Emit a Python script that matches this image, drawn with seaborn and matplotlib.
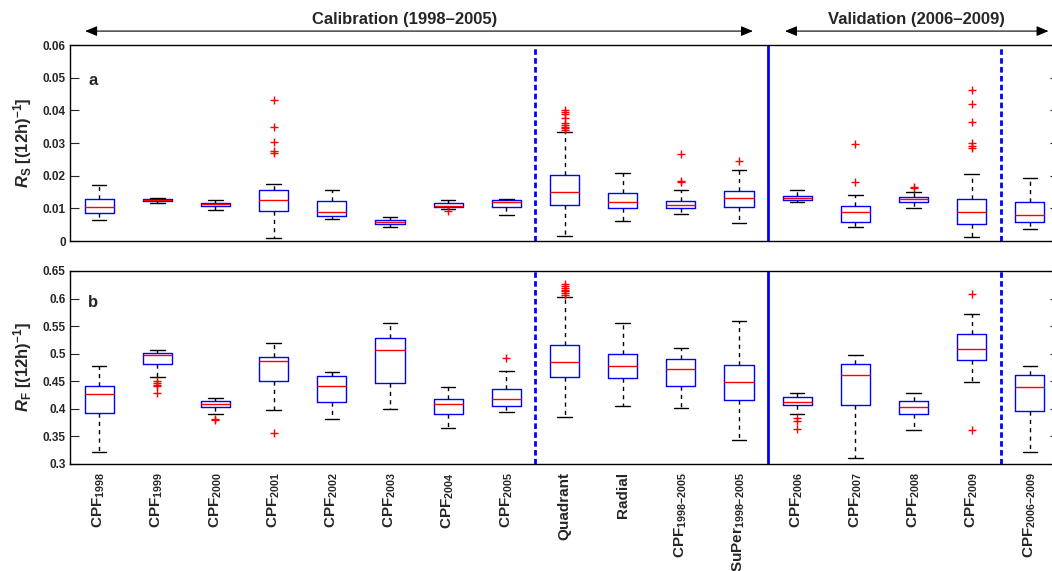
import numpy as np
import pandas as pd
import matplotlib
matplotlib.use("Agg")
import matplotlib.pyplot as plt
from matplotlib.ticker import FuncFormatter, MultipleLocator
import seaborn as sns

# ---- categories -------------------------------------------------------------
groups = ["CPF1998", "CPF1999", "CPF2000", "CPF2001", "CPF2002", "CPF2003",
          "CPF2004", "CPF2005", "Quadrant", "Radial", "CPF1998-2005",
          "SuPer1998-2005", "CPF2006", "CPF2007", "CPF2008", "CPF2009",
          "CPF2006-2009"]

tick_labels = [r"$\mathrm{CPF}_{\mathrm{1998}}$", r"$\mathrm{CPF}_{\mathrm{1999}}$",
               r"$\mathrm{CPF}_{\mathrm{2000}}$", r"$\mathrm{CPF}_{\mathrm{2001}}$",
               r"$\mathrm{CPF}_{\mathrm{2002}}$", r"$\mathrm{CPF}_{\mathrm{2003}}$",
               r"$\mathrm{CPF}_{\mathrm{2004}}$", r"$\mathrm{CPF}_{\mathrm{2005}}$",
               "Quadrant", "Radial",
               r"$\mathrm{CPF}_{\mathrm{1998{-}2005}}$",
               r"$\mathrm{SuPer}_{\mathrm{1998{-}2005}}$",
               r"$\mathrm{CPF}_{\mathrm{2006}}$", r"$\mathrm{CPF}_{\mathrm{2007}}$",
               r"$\mathrm{CPF}_{\mathrm{2008}}$", r"$\mathrm{CPF}_{\mathrm{2009}}$",
               r"$\mathrm{CPF}_{\mathrm{2006{-}2009}}$"]

# ---- panel a: R_S five-number summaries and outliers -------------------------
rs_low  = [0.0064, 0.0115, 0.0095, 0.0010, 0.0066, 0.0044, 0.0099, 0.0081, 0.0014,
           0.0062, 0.0084, 0.0055, 0.0118, 0.0044, 0.0101, 0.0011, 0.0037]
rs_q1   = [0.0085, 0.0122, 0.0107, 0.0092, 0.0077, 0.0053, 0.0105, 0.0104, 0.0111,
           0.0102, 0.0101, 0.0105, 0.0124, 0.0058, 0.0119, 0.0053, 0.0059]
rs_med  = [0.0105, 0.0125, 0.0112, 0.0125, 0.0090, 0.0058, 0.0108, 0.0119, 0.0149,
           0.0119, 0.0111, 0.0131, 0.0132, 0.0090, 0.0128, 0.0088, 0.0079]
rs_q3   = [0.0130, 0.0128, 0.0117, 0.0156, 0.0123, 0.0063, 0.0115, 0.0124, 0.0201,
           0.0147, 0.0123, 0.0154, 0.0139, 0.0106, 0.0134, 0.0128, 0.0119]
rs_high = [0.0171, 0.0133, 0.0124, 0.0174, 0.0156, 0.0075, 0.0125, 0.0128, 0.0335,
           0.0209, 0.0155, 0.0216, 0.0155, 0.0142, 0.0151, 0.0205, 0.0194]
rs_outliers = [[], [], [], [0.0432, 0.0348, 0.0303, 0.0277, 0.0268], [], [],
               [0.0093], [],
               [0.0401, 0.0396, 0.0389, 0.0376, 0.0362, 0.0356, 0.0350, 0.0346, 0.0341],
               [], [0.0266, 0.0184, 0.0181], [0.0244], [], [0.0297, 0.0182],
               [0.0166, 0.0163], [0.0462, 0.0418, 0.0363, 0.0301, 0.0292, 0.0286], []]

# ---- panel b: R_F five-number summaries and outliers -------------------------
rf_low  = [0.321, 0.457, 0.390, 0.398, 0.381, 0.400, 0.366, 0.394, 0.386,
           0.405, 0.401, 0.343, 0.391, 0.311, 0.361, 0.449, 0.321]
rf_q1   = [0.392, 0.482, 0.403, 0.451, 0.413, 0.446, 0.390, 0.405, 0.457,
           0.456, 0.441, 0.416, 0.407, 0.407, 0.391, 0.488, 0.396]
rf_med  = [0.427, 0.497, 0.409, 0.487, 0.441, 0.506, 0.408, 0.417, 0.485,
           0.478, 0.473, 0.448, 0.412, 0.461, 0.403, 0.509, 0.439]
rf_q3   = [0.441, 0.501, 0.414, 0.494, 0.460, 0.529, 0.418, 0.436, 0.515,
           0.499, 0.490, 0.479, 0.421, 0.482, 0.415, 0.535, 0.461]
rf_high = [0.478, 0.507, 0.419, 0.520, 0.467, 0.556, 0.439, 0.468, 0.603,
           0.556, 0.511, 0.559, 0.428, 0.498, 0.428, 0.572, 0.478]
rf_outliers = [[], [0.450, 0.447, 0.443, 0.441, 0.428], [0.382, 0.380], [0.357],
               [], [], [], [0.493],
               [0.626, 0.623, 0.619, 0.616, 0.613, 0.610, 0.607],
               [], [], [], [0.384, 0.378, 0.363], [], [], [0.609, 0.361], []]

# ---- style ------------------------------------------------------------------
sns.set_theme(style="ticks")
plt.rcParams["font.family"] = ["Liberation Sans", "DejaVu Sans"]
plt.rcParams["font.weight"] = "bold"
plt.rcParams["axes.labelweight"] = "bold"
plt.rcParams["mathtext.fontset"] = "custom"
plt.rcParams["mathtext.rm"] = "Liberation Sans:bold"
plt.rcParams["mathtext.bf"] = "Liberation Sans:bold"
plt.rcParams["mathtext.it"] = "Liberation Sans:italic:bold"
plt.rcParams["axes.edgecolor"] = "black"
plt.rcParams["axes.linewidth"] = 1.0

fig = plt.figure(figsize=(10.52, 5.71), dpi=100)
W, H = 1052.0, 571.0
ax_a = fig.add_axes([70 / W, 1 - 241 / H, 989 / W, 196 / H])
ax_b = fig.add_axes([70 / W, 1 - 464 / H, 989 / W, 193 / H])


def draw_panel(ax, low, q1, med, q3, high, outliers):
    # each group is described by its whisker ends, quartiles and median
    summary = np.column_stack([low, q1, med, q3, high]).ravel()
    df = pd.DataFrame({"group": np.repeat(groups, 5), "value": summary})
    sns.boxplot(data=df, x="group", y="value", order=groups, ax=ax,
                whis=(0, 100), width=0.5, fill=False, color="blue",
                linewidth=1.0, showfliers=False,
                whiskerprops=dict(color="black", linestyle=(0, (3, 3))),
                capprops=dict(color="black"),
                medianprops=dict(color="red"))
    out = pd.DataFrame([(g, v) for g, vals in zip(groups, outliers) for v in vals],
                       columns=["group", "value"])
    sns.stripplot(data=out, x="group", y="value", order=groups, ax=ax,
                  jitter=False, marker="+", color="red", size=6, linewidth=1.0)
    ax.axvline(7.5, color="blue", lw=2, linestyle=(0, (2, 1.2)))
    ax.axvline(11.5, color="blue", lw=2)
    ax.axvline(15.5, color="blue", lw=2, linestyle=(0, (2, 1.2)))
    ax.set_xlim(-0.5, len(groups) - 0.5)
    ax.set_xlabel("")
    ax.tick_params(axis="y", direction="in", length=6.5, width=0.8,
                   left=True, right=True, labelsize=8.5, pad=3)
    ax.tick_params(axis="x", length=0)
    ax.yaxis.set_major_formatter(FuncFormatter(lambda v, p: f"{v:g}"))
    for s in ax.spines.values():
        s.set_visible(True)
        s.set_color("black")


draw_panel(ax_a, rs_low, rs_q1, rs_med, rs_q3, rs_high, rs_outliers)
draw_panel(ax_b, rf_low, rf_q1, rf_med, rf_q3, rf_high, rf_outliers)

ax_a.set_ylim(0, 0.06)
ax_a.yaxis.set_major_locator(MultipleLocator(0.01))
ax_a.set_xticks(range(len(groups)))
ax_a.set_xticklabels([])
ax_a.set_ylabel(r"$R_{\mathrm{S}}$ [(12h)$^{-1}$]", fontsize=12)
ax_a.yaxis.set_label_coords(-0.036, 0.5)

ax_b.set_ylim(0.3, 0.65)
ax_b.yaxis.set_major_locator(MultipleLocator(0.05))
ax_b.set_xticks(range(len(groups)))
ax_b.set_xticklabels(tick_labels, rotation=90, fontsize=11)
ax_b.tick_params(axis="x", pad=6)
ax_b.set_ylabel(r"$R_{\mathrm{F}}$ [(12h)$^{-1}$]", fontsize=12)
ax_b.yaxis.set_label_coords(-0.036, 0.5)

ax_a.text(0.023, 0.82, "a", transform=ax_a.transAxes, fontsize=12,
          fontweight="bold", ha="center", va="center")
ax_b.text(0.023, 0.835, "b", transform=ax_b.transAxes, fontsize=12,
          fontweight="bold", ha="center", va="center")

# period arrows above panel a
arrow = dict(arrowstyle="<|-|>,head_length=0.6,head_width=0.25", color="black",
             lw=0.8, mutation_scale=12, shrinkA=0, shrinkB=0)
ax_a.annotate("", xy=(-0.24, 1.071), xytext=(11.24, 1.071),
              xycoords=("data", "axes fraction"), arrowprops=arrow,
              annotation_clip=False)
ax_a.annotate("", xy=(11.79, 1.071), xytext=(16.32, 1.071),
              xycoords=("data", "axes fraction"), arrowprops=arrow,
              annotation_clip=False)
ax_a.text(5.26, 1.128, "Calibration (1998\u20132005)", fontsize=12,
          fontweight="bold", ha="center", va="center",
          transform=ax_a.get_xaxis_transform())
ax_a.text(14.05, 1.128, "Validation (2006\u20132009)", fontsize=12,
          fontweight="bold", ha="center", va="center",
          transform=ax_a.get_xaxis_transform())

fig.savefig("out.png", dpi=100)
